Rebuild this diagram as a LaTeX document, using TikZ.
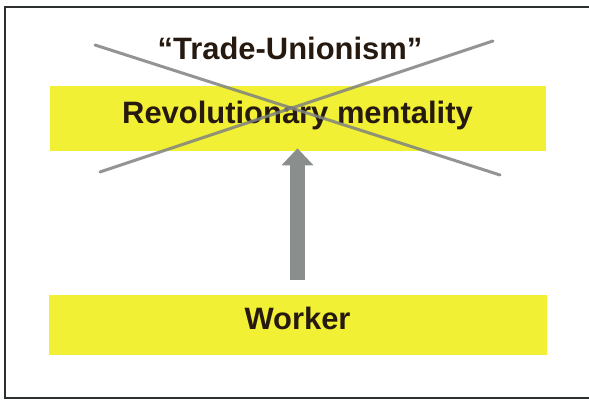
\documentclass[tikz,border=0pt]{standalone}
\usepackage{fontspec}
\setmainfont{Liberation Sans}
\usepackage{tikz}
\usetikzlibrary{arrows.meta}

\definecolor{BandYellow}{RGB}{242,240,52}
\definecolor{InkDark}{RGB}{38,26,16}
\definecolor{CrossGray}{RGB}{128,130,128}
\definecolor{ArrowGray}{RGB}{138,142,140}
\definecolor{FrameDark}{RGB}{45,48,48}

\tikzset{
	label/.style={font=\bfseries\fontsize{17.6}{21}\selectfont, text=InkDark, inner sep=0pt},
	band/.style={label, fill=BandYellow, text height=0.73em, text depth=0.21em},
	cross/.style={CrossGray, line width=0.06cm, line cap=round, opacity=0.85},
	uparrow/.style={ArrowGray, line width=0.29cm, -{Triangle[width=0.62cm,length=0.34cm]}}
}

\begin{document}
\begin{tikzpicture}

	\useasboundingbox (0,0) rectangle (11.78cm,8.00cm);

	%Frame
	\draw[FrameDark, line width=0.04cm] (11.78cm,7.86cm) -- (0.10cm,7.86cm) -- (0.10cm,0.04cm) -- (11.78cm,0.04cm);

	%Labels
	\node[label, anchor=base] (TU) at (5.80cm,6.80cm) {``Trade-Unionism''};
	
	\node[band, minimum width=9.92cm, minimum height=1.30cm] (Rev) at (5.95cm,5.63cm) {Revolutionary mentality};
	
	\node[band, minimum width=9.96cm, minimum height=1.20cm] (Wrk) at (5.95cm,1.50cm) {Worker};
	
	%%%%%%%%%%%%%%%%%%%%%%%%%%%%%%%%%%%%%%%%%%%%%%%%%%%%%%%%%
	%Arrow
	\draw[uparrow, shorten <=0.30cm, shorten >=-0.06cm] (Wrk.north) -- (Rev.south);
	
	%Cross
	\draw[cross] (1.90cm,7.10cm) -- (10.00cm,4.50cm);
	\draw[cross] (2.00cm,4.56cm) -- (9.86cm,7.18cm);

\end{tikzpicture}
\end{document}
